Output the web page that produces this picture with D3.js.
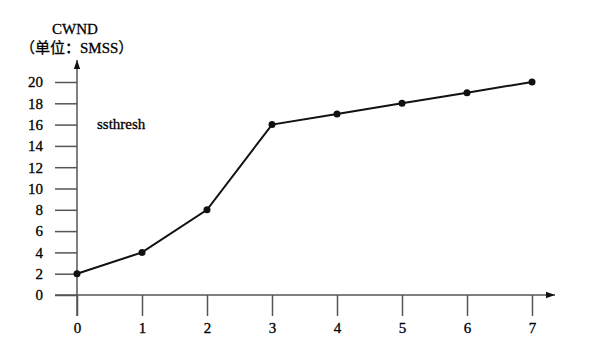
<!DOCTYPE html>
<html>
<head>
<meta charset="utf-8">
<script src="https://cdn.jsdelivr.net/npm/d3@7"></script>
<style>
  body { margin: 0; background: #fff; }
  text { font-family: "Liberation Serif", "Noto Sans CJK SC", serif; fill: #000; }
</style>
</head>
<body>
<script>
// data
var rounds = [0, 1, 2, 3, 4, 5, 6, 7];
var cwnd = [2, 4, 8, 16, 17, 18, 19, 20];
var yTicks = [0, 2, 4, 6, 8, 10, 12, 14, 16, 18, 20];

var width = 596, height = 343;

var svg = d3.select("body").append("svg")
    .attr("width", width)
    .attr("height", height);

// scales
var x = d3.scaleLinear().domain([0, 7]).range([77, 532]);
var y = d3.scaleLinear().domain([0, 20]).range([295, 82]);

var axisColor = "#555";
var fontSize = "15px";

// arrow head
svg.append("defs").append("marker")
    .attr("id", "arrow")
    .attr("viewBox", "0 0 10 10")
    .attr("refX", 10).attr("refY", 5)
    .attr("markerWidth", 9).attr("markerHeight", 9)
    .attr("markerUnits", "userSpaceOnUse")
    .attr("orient", "auto")
    .append("path")
    .attr("d", "M0,1.5 L10,5 L0,8.5 z")
    .style("fill", "#111");

// x axis line
svg.append("line")
    .attr("x1", 55).attr("x2", 555)
    .attr("y1", y(0)).attr("y2", y(0))
    .style("stroke", axisColor).style("stroke-width", 1.5)
    .attr("marker-end", "url(#arrow)");

// y axis line
svg.append("line")
    .attr("x1", x(0)).attr("x2", x(0))
    .attr("y1", 316).attr("y2", 60)
    .style("stroke", axisColor).style("stroke-width", 1.5)
    .attr("marker-end", "url(#arrow)");

// y ticks (on the left of the axis)
var yAxis = d3.axisLeft(y).tickValues(yTicks).tickSize(22).tickPadding(12);
var gy = svg.append("g")
    .attr("transform", "translate(" + x(0) + ",0)")
    .call(yAxis);
gy.select(".domain").remove();
gy.selectAll(".tick line").style("stroke", axisColor).style("stroke-width", 1.5);
gy.selectAll(".tick text")
    .style("font-size", fontSize)
    .style("font-family", "Liberation Serif")
    .style("fill", "#000")
    .style("stroke", "#000").style("stroke-width", 0.3);

// x ticks (below the axis)
var xAxis = d3.axisBottom(x).tickValues(rounds).tickSize(21).tickPadding(6)
    .tickFormat(d3.format("d"));
var gx = svg.append("g")
    .attr("transform", "translate(0," + y(0) + ")")
    .call(xAxis);
gx.select(".domain").remove();
gx.selectAll(".tick line").style("stroke", axisColor).style("stroke-width", 1.5);
gx.selectAll(".tick text")
    .style("font-size", fontSize)
    .style("font-family", "Liberation Serif")
    .style("fill", "#000")
    .style("stroke", "#000").style("stroke-width", 0.3);

// the cwnd line
var line = d3.line()
    .x(function(d, i) { return x(rounds[i]); })
    .y(function(d) { return y(d); });

svg.append("path")
    .datum(cwnd)
    .attr("d", line)
    .style("fill", "none")
    .style("stroke", "#111")
    .style("stroke-width", 2);

svg.append("g")
    .selectAll("circle")
    .data(cwnd)
    .enter().append("circle")
    .attr("cx", function(d, i) { return x(rounds[i]); })
    .attr("cy", function(d) { return y(d); })
    .attr("r", 3.5)
    .style("fill", "#111");

// labels
svg.append("text")
    .attr("x", 52).attr("y", 34)
    .style("font-size", fontSize)
    .style("stroke", "#000").style("stroke-width", 0.3)
    .text("CWND");

svg.append("text")
    .attr("x", 20).attr("y", 53)
    .style("font-size", fontSize)
    .style("stroke", "#000").style("stroke-width", 0.3)
    .text("（单位：SMSS）");

svg.append("text")
    .attr("x", 97).attr("y", 129)
    .style("font-size", fontSize)
    .style("stroke", "#000").style("stroke-width", 0.3)
    .text("ssthresh");
</script>
</body>
</html>
